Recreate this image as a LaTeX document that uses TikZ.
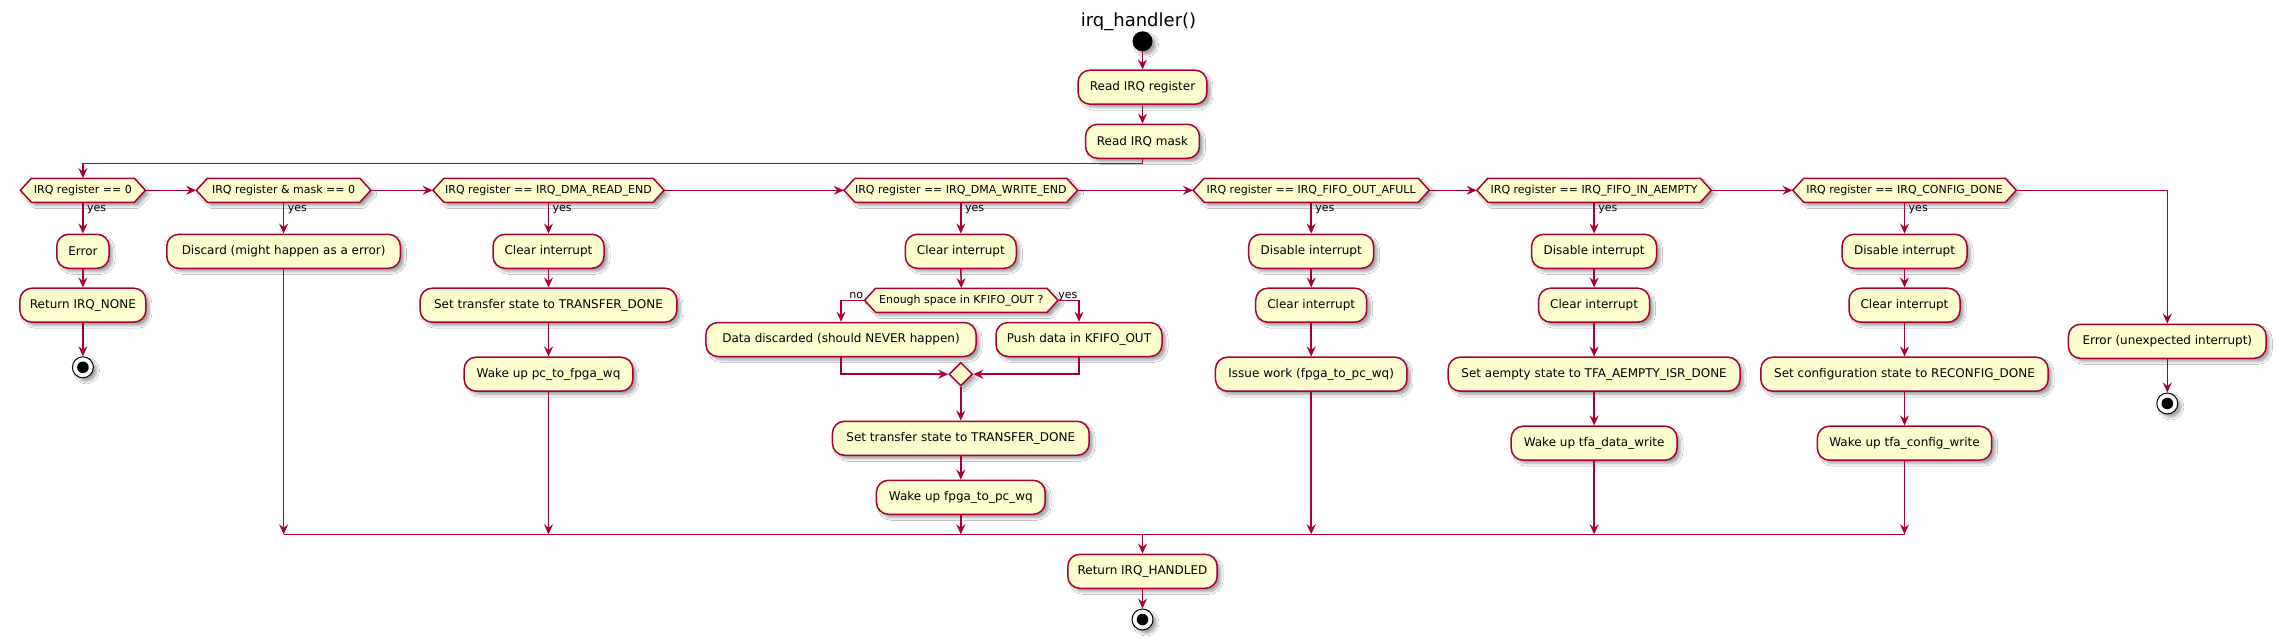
\documentclass[tikz,border=0pt]{standalone}
\usepackage{fontspec}
\setmainfont{DejaVu Sans}
\usetikzlibrary{arrows.meta,shapes.geometric,shadows.blur,calc}
\definecolor{lc}{HTML}{A80036}
\definecolor{bf}{HTML}{FEFECE}
\newcommand\fsz[1]{\fontsize{#1}{#1}\selectfont}
\tikzset{
  shad/.style={blur shadow={shadow xshift=3.5pt, shadow yshift=-3.5pt, shadow blur steps=6, shadow blur radius=2.5pt, shadow opacity=35}},
  actbox/.style={rectangle, rounded corners=12pt, draw=lc, fill=bf, line width=1.5pt,
     minimum height=34pt, inner sep=0pt, font=\fsz{12}, shad},
  hexn/.style={inner sep=0pt, minimum height=24pt, font=\fsz{11}},
  hexshape/.style={draw=lc, fill=bf, line width=1.5pt, shad},
  arr/.style={draw=lc, line width=1.5pt, -{Stealth[length=10pt,width=9pt,inset=3.5pt]}},
  ln/.style={draw=lc, line width=1.5pt},
  lbl/.style={font=\fsz{11}, inner sep=0pt},
  startn/.style={circle, fill=black, minimum size=20pt, inner sep=0pt, shad},
  stopn/.style={circle, draw=black, line width=1pt, fill=white, minimum size=21pt, inner sep=0pt, shad,
     path picture={\fill[black] (path picture bounding box.center) circle (5.8pt);}},
  mdiam/.style={diamond, aspect=1, draw=lc, fill=bf, line width=1.5pt, minimum width=23.6pt, minimum height=23.6pt, inner sep=0pt, shad},
}
\newcommand\hexdec[5]{%
  \pgfmathsetmacro\hxa{#2-#4/2}%
  \pgfmathsetmacro\hxb{#2+#4/2}%
  \path[hexshape] (\hxa,#3) -- (\hxa+11,#3-12) -- (\hxb-11,#3-12) -- (\hxb,#3) -- (\hxb-11,#3+12) -- (\hxa+11,#3+12) -- cycle;
  \node[hexn, minimum width=#4pt] (#1) at (#2,#3) {#5};
}
\begin{document}
\begin{tikzpicture}[x=1pt,y=-1pt]
\fill[white] (0,0) rectangle (2277,639);
\useasboundingbox (0,0) rectangle (2277,639);

% title, start
\node[font=\fsz{18}, inner sep=0pt] (title) at (1138.5,21.5) {irq\_handler()};
\node[startn] (start) at (1142.5,41.3) {};
\node[actbox, minimum width=128.9pt] (readreg) at (1142.5,87.2) {Read IRQ register};
\node[actbox, minimum width=113.9pt] (readmask) at (1142.5,141.3) {Read IRQ mask};
\coordinate (top) at (1142.5,163.3);

% decisions
\hexdec{d1}{82.9}{190.3}{125}{IRQ register == 0}
\hexdec{d2}{283.6}{190.3}{174.5}{IRQ register \& mask == 0}
\hexdec{d3}{548.5}{190.3}{231.2}{IRQ register == IRQ\_DMA\_READ\_END}
\hexdec{d4}{960.8}{190.3}{233.7}{IRQ register == IRQ\_DMA\_WRITE\_END}
\hexdec{d5}{1311.2}{190.3}{236.1}{IRQ register == IRQ\_FIFO\_OUT\_AFULL}
\hexdec{d6}{1594.1}{190.3}{234.5}{IRQ register == IRQ\_FIFO\_IN\_AEMPTY}
\hexdec{d7}{1904.5}{190.3}{223.6}{IRQ register == IRQ\_CONFIG\_DONE}

% column 1
\node[actbox, minimum width=52.3pt] (err1) at (82.9,251.3) {Error};
\node[actbox, minimum width=126pt] (retnone) at (82.9,305.2) {Return IRQ\_NONE};
\node[stopn] (stop1) at (82.9,367.3) {};

% column 2
\node[actbox, minimum width=233.6pt] (discard) at (283.6,251.3) {Discard (might happen as a error)};

% column 3
\node[actbox, minimum width=111pt] (clr3) at (548.5,251.3) {Clear interrupt};
\node[actbox, minimum width=256.7pt] (set3) at (548.5,305.2) {Set transfer state to TRANSFER\_DONE};
\node[actbox, minimum width=168.7pt] (wake3) at (548.5,374.2) {Wake up pc\_to\_fpga\_wq};

% column 4
\node[actbox, minimum width=111pt] (clr4) at (960.8,251.3) {Clear interrupt};
\hexdec{d4b}{961.3}{300.3}{193.5}{Enough space in KFIFO\_OUT ?}
\node[actbox, minimum width=270.2pt] (discarded) at (841,339.5) {Data discarded (should NEVER happen)};
\node[actbox, minimum width=166pt] (push) at (1079,339.5) {Push data in KFIFO\_OUT};
\node[mdiam] (mdia) at (960.8,374.2) {};
\node[actbox, minimum width=256.7pt] (set4) at (960.8,438.3) {Set transfer state to TRANSFER\_DONE};
\node[actbox, minimum width=168.7pt] (wake4) at (960.8,497.3) {Wake up fpga\_to\_pc\_wq};

% column 5
\node[actbox, minimum width=125pt] (dis5) at (1311.2,251.3) {Disable interrupt};
\node[actbox, minimum width=111pt] (clr5) at (1311.2,305.2) {Clear interrupt};
\node[actbox, minimum width=191.5pt] (issue5) at (1311.2,374.2) {Issue work (fpga\_to\_pc\_wq)};

% column 6
\node[actbox, minimum width=125pt] (dis6) at (1594.1,251.3) {Disable interrupt};
\node[actbox, minimum width=111pt] (clr6) at (1594.1,305.2) {Clear interrupt};
\node[actbox, minimum width=291.8pt] (set6) at (1594.1,374.2) {Set aempty state to TFA\_AEMPTY\_ISR\_DONE};
\node[actbox, minimum width=165.8pt] (wake6) at (1594.1,443.2) {Wake up tfa\_data\_write};

% column 7
\node[actbox, minimum width=125pt] (dis7) at (1904.5,251.3) {Disable interrupt};
\node[actbox, minimum width=111pt] (clr7) at (1904.5,305.2) {Clear interrupt};
\node[actbox, minimum width=287.3pt] (set7) at (1904.5,374.2) {Set configuration state to RECONFIG\_DONE};
\node[actbox, minimum width=174.3pt] (wake7) at (1904.5,443.2) {Wake up tfa\_config\_write};

% else column
\node[actbox, minimum width=197.8pt] (err8) at (2167.3,341.3) {Error (unexpected interrupt)};
\node[stopn] (stop8) at (2167.3,403.5) {};

% merge & end
\coordinate (merge) at (1142.5,534.3);
\node[actbox, minimum width=149.3pt] (rethandled) at (1142.5,571.3) {Return IRQ\_HANDLED};
\node[stopn] (stop2) at (1142.5,619.5) {};

% connectors: top
\draw[arr] (start) -- (readreg);
\draw[arr] (readreg) -- (readmask);
\draw[arr] (readmask.south) -- (top) -| (d1.north);
\draw[arr] (d1.east) -- (d2.west);
\draw[arr] (d2.east) -- (d3.west);
\draw[arr] (d3.east) -- (d4.west);
\draw[arr] (d4.east) -- (d5.west);
\draw[arr] (d5.east) -- (d6.west);
\draw[arr] (d6.east) -- (d7.west);
\draw[arr] (d7.east) -| (err8.north);

% yes labels
\foreach \d in {d1,d2,d3,d4,d5,d6,d7}{
  \node[lbl, anchor=base west] at ($(\d.south)+(4,9.4)$) {yes};
}

% column 1
\draw[arr] (d1.south) -- (err1);
\draw[arr] (err1) -- (retnone);
\draw[arr] (retnone) -- (stop1);
% column 2
\draw[arr] (d2.south) -- (discard);
\draw[arr] (discard.south) -- (discard.south |- merge);
% column 3
\draw[arr] (d3.south) -- (clr3);
\draw[arr] (clr3) -- (set3);
\draw[arr] (set3) -- (wake3);
\draw[arr] (wake3.south) -- (wake3.south |- merge);
% column 4
\draw[arr] (d4.south) -- (clr4);
\draw[arr] (clr4.south) -- (d4b.north);
\draw[arr] (d4b.west) -| (discarded.north);
\draw[arr] (d4b.east) -| (push.north);
\node[lbl, anchor=base east] at ($(d4b.west)+(-1,-2)$) {no};
\node[lbl, anchor=base west] at ($(d4b.east)+(0,-2)$) {yes};
\draw[arr] (discarded.south) |- (mdia.west);
\draw[arr] (push.south) |- (mdia.east);
\draw[arr] (mdia.south) -- (set4.north);
\draw[arr] (set4) -- (wake4);
\draw[arr] (wake4.south) -- (wake4.south |- merge);
% column 5
\draw[arr] (d5.south) -- (dis5);
\draw[arr] (dis5) -- (clr5);
\draw[arr] (clr5) -- (issue5);
\draw[arr] (issue5.south) -- (issue5.south |- merge);
% column 6
\draw[arr] (d6.south) -- (dis6);
\draw[arr] (dis6) -- (clr6);
\draw[arr] (clr6) -- (set6);
\draw[arr] (set6) -- (wake6);
\draw[arr] (wake6.south) -- (wake6.south |- merge);
% column 7
\draw[arr] (d7.south) -- (dis7);
\draw[arr] (dis7) -- (clr7);
\draw[arr] (clr7) -- (set7);
\draw[arr] (set7) -- (wake7);
\draw[arr] (wake7.south) -- (wake7.south |- merge);
% else
\draw[arr] (err8) -- (stop8);
% merge
\draw[ln] (discard.south |- merge) -- (wake7.south |- merge);
\draw[arr] (merge) -- (rethandled);
\draw[arr] (rethandled) -- (stop2);
\end{tikzpicture}
\end{document}
